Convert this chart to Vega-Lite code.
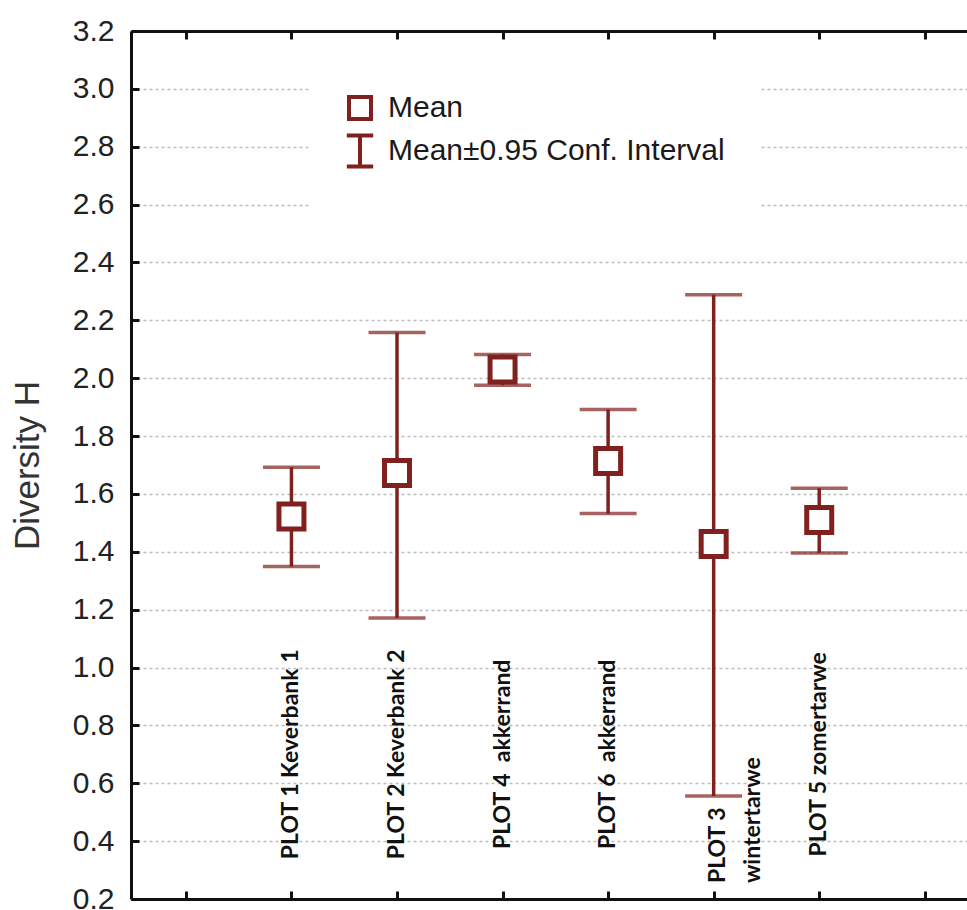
{
  "$schema": "https://vega.github.io/schema/vega-lite/v6.json",
  "width": 836,
  "height": 868,
  "autosize": "none",
  "padding": {"left": 131, "top": 31, "right": 0, "bottom": 11},
  "background": "white",
  "config": {
    "view": {"stroke": null},
    "axis": {"labelFont": "Liberation Sans", "titleFont": "Liberation Sans"}
  },
  "data": {
    "values": [
      {"site": "PLOT 1 Keverbank 1", "pos": 1, "mean": 1.522, "lo": 1.349, "hi": 1.692, "series": "Mean"},
      {"site": "PLOT 2 Keverbank 2", "pos": 2, "mean": 1.672, "lo": 1.171, "hi": 2.158, "series": "Mean"},
      {"site": "PLOT 4\u00a0 akkerrand", "pos": 3, "mean": 2.030, "lo": 1.976, "hi": 2.082, "series": "Mean"},
      {"site": "PLOT 6\u00a0 akkerrand", "pos": 4, "mean": 1.714, "lo": 1.532, "hi": 1.892, "series": "Mean"},
      {"site": "PLOT 3\nwintertarwe", "pos": 5, "mean": 1.427, "lo": 0.556, "hi": 2.288, "series": "Mean"},
      {"site": "PLOT 5 zomertarwe", "pos": 6, "mean": 1.510, "lo": 1.396, "hi": 1.620, "series": "Mean"}
    ]
  },
  "resolve": {"axis": {"x": "independent"}},
  "layer": [
    {
      "mark": {"type": "rule", "color": "#80211f", "strokeWidth": 3.5},
      "encoding": {
        "x": {
          "field": "pos", "type": "quantitative",
          "scale": {"domain": [-0.52, 7.4], "nice": false, "zero": false},
          "axis": {
            "orient": "bottom", "values": [0, 1, 2, 3, 4, 5, 6, 7], "labels": false,
            "domain": true, "domainColor": "#111", "domainWidth": 3,
            "ticks": true, "tickSize": -8, "tickWidth": 3, "tickColor": "#111",
            "grid": false, "title": null
          }
        },
        "y": {
          "field": "lo", "type": "quantitative", "title": "Diversity H",
          "scale": {"domain": [0.2, 3.2], "nice": false, "zero": false},
          "axis": {
            "values": [0.2, 0.4, 0.6, 0.8, 1.0, 1.2, 1.4, 1.6, 1.8, 2.0, 2.2, 2.4, 2.6, 2.8, 3.0, 3.2],
            "format": ".1f",
            "labelFontSize": 30, "labelColor": "#222", "labelPadding": 25,
            "domain": true, "domainColor": "#111", "domainWidth": 3,
            "ticks": true, "tickSize": -8, "tickWidth": 3, "tickColor": "#111",
            "grid": true, "gridColor": "#bdbdbd", "gridDash": [3, 3], "gridWidth": 1.5,
            "titleFontSize": 35, "titleFontWeight": "normal", "titleColor": "#333", "titlePadding": 27
          }
        },
        "y2": {"field": "hi"}
      }
    },
    {
      "mark": {"type": "tick", "orient": "horizontal", "color": "#80211f", "size": 57, "thickness": 3.5},
      "encoding": {
        "x": {
          "field": "pos", "type": "quantitative",
          "scale": {"domain": [-0.52, 7.4], "nice": false, "zero": false},
          "axis": {
            "orient": "top", "values": [0, 1, 2, 3, 4, 5, 6, 7], "labels": false,
            "domain": true, "domainColor": "#111", "domainWidth": 3,
            "ticks": true, "tickSize": -8, "tickWidth": 3, "tickColor": "#111",
            "grid": false, "title": null
          }
        },
        "y": {"field": "hi", "type": "quantitative", "title": "Diversity H"}
      }
    },
    {
      "mark": {"type": "tick", "orient": "horizontal", "color": "#80211f", "size": 57, "thickness": 3.5},
      "encoding": {
        "x": {"field": "pos", "type": "quantitative", "scale": {"domain": [-0.52, 7.4], "nice": false, "zero": false}, "axis": null},
        "y": {"field": "lo", "type": "quantitative", "title": "Diversity H"}
      }
    },
    {
      "mark": {"type": "point", "filled": false, "fill": "white", "stroke": "#80211f", "strokeWidth": 5, "size": 625, "opacity": 1},
      "encoding": {
        "x": {"field": "pos", "type": "quantitative", "scale": {"domain": [-0.52, 7.4], "nice": false, "zero": false}, "axis": null},
        "y": {"field": "mean", "type": "quantitative", "title": "Diversity H"},
        "shape": {
          "field": "series", "type": "nominal",
          "scale": {
            "domain": ["Mean", "Mean±0.95 Conf. Interval"],
            "range": ["square", "M-1.2,-1.4H1.2M0,-1.4V1.4M-1.2,1.4H1.2"]
          },
          "legend": {
            "title": null, "orient": "none", "legendX": 178, "legendY": 26,
            "fillColor": "white", "padding": 36,
            "labelFont": "Liberation Sans", "labelFontSize": 30, "labelColor": "#1a1a1a",
            "labelOffset": 13, "rowPadding": 0,
            "symbolSize": 484, "symbolStrokeWidth": 4,
            "labelLimit": 600
          }
        }
      }
    },
    {
      "transform": [{"filter": "datum.pos !== 5"}],
      "mark": {"type": "text", "font": "Lato", "fontWeight": "bold", "fontSize": 23, "angle": 270, "align": "center", "baseline": "middle", "color": "#111"},
      "encoding": {
        "x": {"field": "pos", "type": "quantitative", "scale": {"domain": [-0.52, 7.4], "nice": false, "zero": false}, "axis": null},
        "y": {"datum": 0.7, "type": "quantitative", "title": "Diversity H"},
        "text": {"field": "site"}
      }
    },
    {
      "transform": [{"filter": "datum.pos === 5"}],
      "mark": {"type": "text", "font": "Lato", "fontWeight": "bold", "fontSize": 23, "angle": 270, "align": "left", "baseline": "middle", "lineBreak": "\n", "lineHeight": 35, "dy": 4, "color": "#111"},
      "encoding": {
        "x": {"field": "pos", "type": "quantitative", "scale": {"domain": [-0.52, 7.4], "nice": false, "zero": false}, "axis": null},
        "y": {"datum": 0.255, "type": "quantitative", "title": "Diversity H"},
        "text": {"field": "site"}
      }
    }
  ]
}
